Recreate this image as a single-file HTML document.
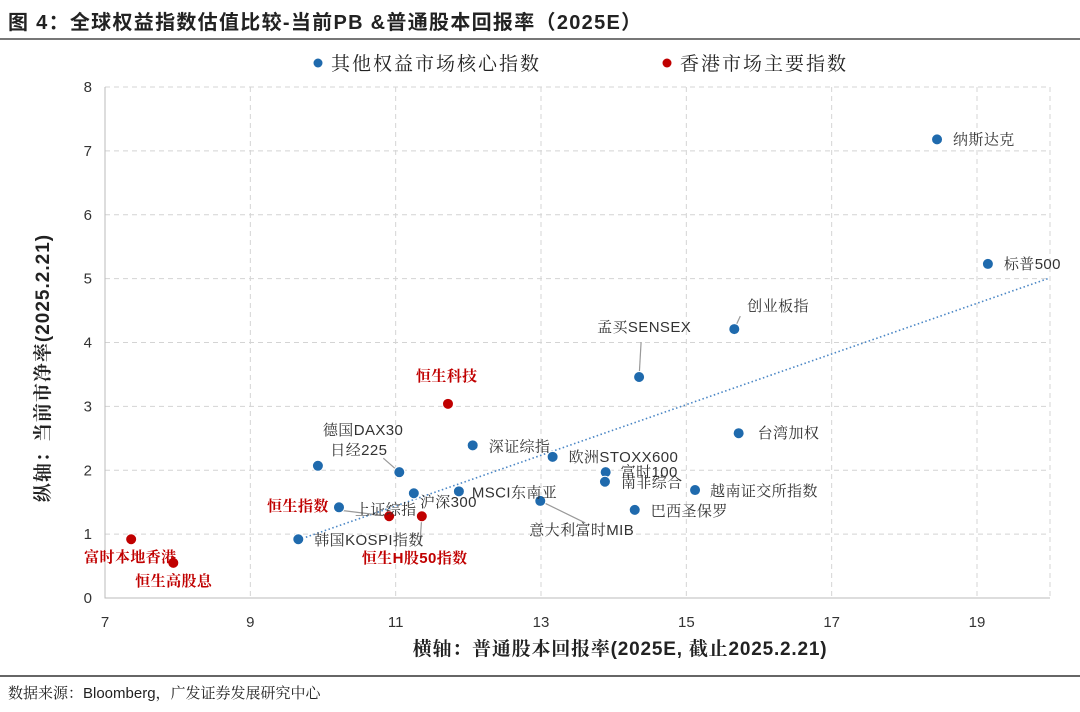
<!DOCTYPE html>
<html><head><meta charset="utf-8"><style>
body{margin:0;background:#fff;}
svg text{font-family:"Liberation Sans","Noto Serif CJK SC","Noto Sans CJK SC",sans-serif;}
</style></head><body>
<svg id="chart" width="1080" height="707" viewBox="0 0 1080 707" xmlns="http://www.w3.org/2000/svg">
<text x="8" y="29" font-size="20" font-weight="bold" fill="#222" letter-spacing="1.3" style="font-family:'Liberation Sans','Noto Sans CJK SC',sans-serif">图  4：全球权益指数估值比较-当前PB &amp;普通股本回报率（2025E）</text>
<line x1="0" y1="39" x2="1080" y2="39" stroke="#777" stroke-width="2"/>
<g>
<circle cx="318" cy="63" r="4.5" fill="#1f6aad"/>
<text x="331" y="70" font-size="19" letter-spacing="2" fill="#222">其他权益市场核心指数</text>
<circle cx="667" cy="63" r="4.5" fill="#c00000"/>
<text x="680" y="70" font-size="19" letter-spacing="2" fill="#222">香港市场主要指数</text>
</g>
<g id="grid"></g><g id="axes"></g><g id="trend"></g><g id="leaders"></g><g id="points"></g><g id="labels"></g>
<text transform="translate(49,368) rotate(-90)" text-anchor="middle" font-size="19" font-weight="bold" letter-spacing="1" fill="#222">纵轴：当前市净率(2025.2.21)</text>
<text x="620" y="655" text-anchor="middle" font-size="19" font-weight="bold" letter-spacing="0.8" fill="#222">横轴：普通股本回报率(2025E, 截止2025.2.21)</text>
<line x1="0" y1="676" x2="1080" y2="676" stroke="#333" stroke-width="1.5"/>
<text x="8" y="698" font-size="15" fill="#222">数据来源：Bloomberg，广发证券发展研究中心</text>
</svg>
<script>
const names=["纳斯达克","标普500","创业板指","孟买SENSEX","台湾加权","越南证交所指数","巴西圣保罗","富时100","南非综合","欧洲STOXX600","深证综指","意大利富时MIB","MSCI东南亚","沪深300","日经225","德国DAX30","上证综指","韩国KOSPI指数"];
const roeVals=[18.45,19.15,15.66,14.35,15.72,15.12,14.29,13.89,13.88,13.16,12.06,12.99,11.87,11.25,11.05,9.93,10.22,9.66];
const pbVals=[7.18,5.23,4.21,3.46,2.58,1.69,1.38,1.97,1.82,2.21,2.39,1.52,1.67,1.64,1.97,2.07,1.42,0.92];
const hkNames=["恒生科技","恒生指数","恒生H股50指数","富时本地香港","恒生高股息"];
const hkRoe=[11.72,10.91,11.36,7.36,7.94];
const hkPb=[3.04,1.28,1.28,0.92,0.55];
const xTicks=[7,9,11,13,15,17,19];
const yTicks=[0,1,2,3,4,5,6,7,8];
const trendX=[9.66,20];
const trendY=[0.91,5.01];
// label offsets (layout only)
const lblOff=[[16,5],[16,5],[13,-18],[-42,-45],[19,5],[15,6],[16,6],[15,5],[16,6],[16,5],[16,6],[-11,34],[13,6],[6,14],[-69,-17],[5,-31],[16,7],[16,6]];
const lead=[null,null,[6,-13],[2,-35],null,null,null,null,null,null,null,[45,22],null,null,[-16,-14],null,null,null];
const hkOff=[[-32,-23],[-122,-5],[-60,47],[-47,23],[-38,23]];
const hkLead=[null,[-49,-6],[-2,29],null,null];

const X=v=>105+(v-7)*(872/12), Y=v=>598-v*(511/8);
const NS="http://www.w3.org/2000/svg";
function mk(t,a,p){const e=document.createElementNS(NS,t);for(const k in a)e.setAttribute(k,a[k]);document.getElementById(p).appendChild(e);return e;}
const L=105,R=1050,T=87,B=598;
xTicks.forEach(v=>{
 if(v>7){const g=mk('line',{x1:X(v),x2:X(v),y1:T,y2:B,stroke:'#d4d4d4','stroke-dasharray':'5,4'},'grid');
 
 }
 const t=mk('text',{x:X(v),y:627,'text-anchor':'middle','font-size':15,fill:'#333'},'axes');t.textContent=v;
 
 
});
mk('line',{x1:R,x2:R,y1:T,y2:B,stroke:'#d4d4d4','stroke-dasharray':'5,4'},'grid');
yTicks.forEach(v=>{
 if(v>0){const g=mk('line',{x1:L,x2:R,y1:Y(v),y2:Y(v),stroke:'#d4d4d4','stroke-dasharray':'5,4'},'grid');
 
 }
 const t=mk('text',{x:92,y:Y(v)+5,'text-anchor':'end','font-size':15,fill:'#333'},'axes');t.textContent=v;
 
 
});
const ax=mk('path',{d:`M${L},${T}V${B}H${R}`,stroke:'#bbb',fill:'none'},'axes');


const tl=mk('line',{x1:X(trendX[0]),y1:Y(trendY[0]),x2:X(trendX[1]),y2:Y(trendY[1]),stroke:'#4a86c5','stroke-width':1.6,'stroke-dasharray':'1.5,2.5'},'trend');


function draw(nm,xs,ys,off,ld,col,bold){
 nm.forEach((n,i)=>{
  const cx=X(xs[i]),cy=Y(ys[i]);
  if(ld[i]){const l=mk('line',{x1:cx,y1:cy,x2:cx+ld[i][0],y2:cy+ld[i][1],stroke:'#999','stroke-width':1.2},'leaders');
   
   }
  const c=mk('circle',{cx:cx,cy:cy,r:5.5,fill:col,stroke:'#fff','stroke-width':1},'points');
  
  
  const t=mk('text',{x:cx+off[i][0],y:cy+off[i][1],'font-size':15,'letter-spacing':0.4,fill:bold?'#c00000':'#333','font-weight':bold?'bold':'normal'},'labels');
  t.textContent=n;
  
  
 });
}
draw(names,roeVals,pbVals,lblOff,lead,'#1f6aad',false);
draw(hkNames,hkRoe,hkPb,hkOff,hkLead,'#c00000',true);
</script>
</body></html>
